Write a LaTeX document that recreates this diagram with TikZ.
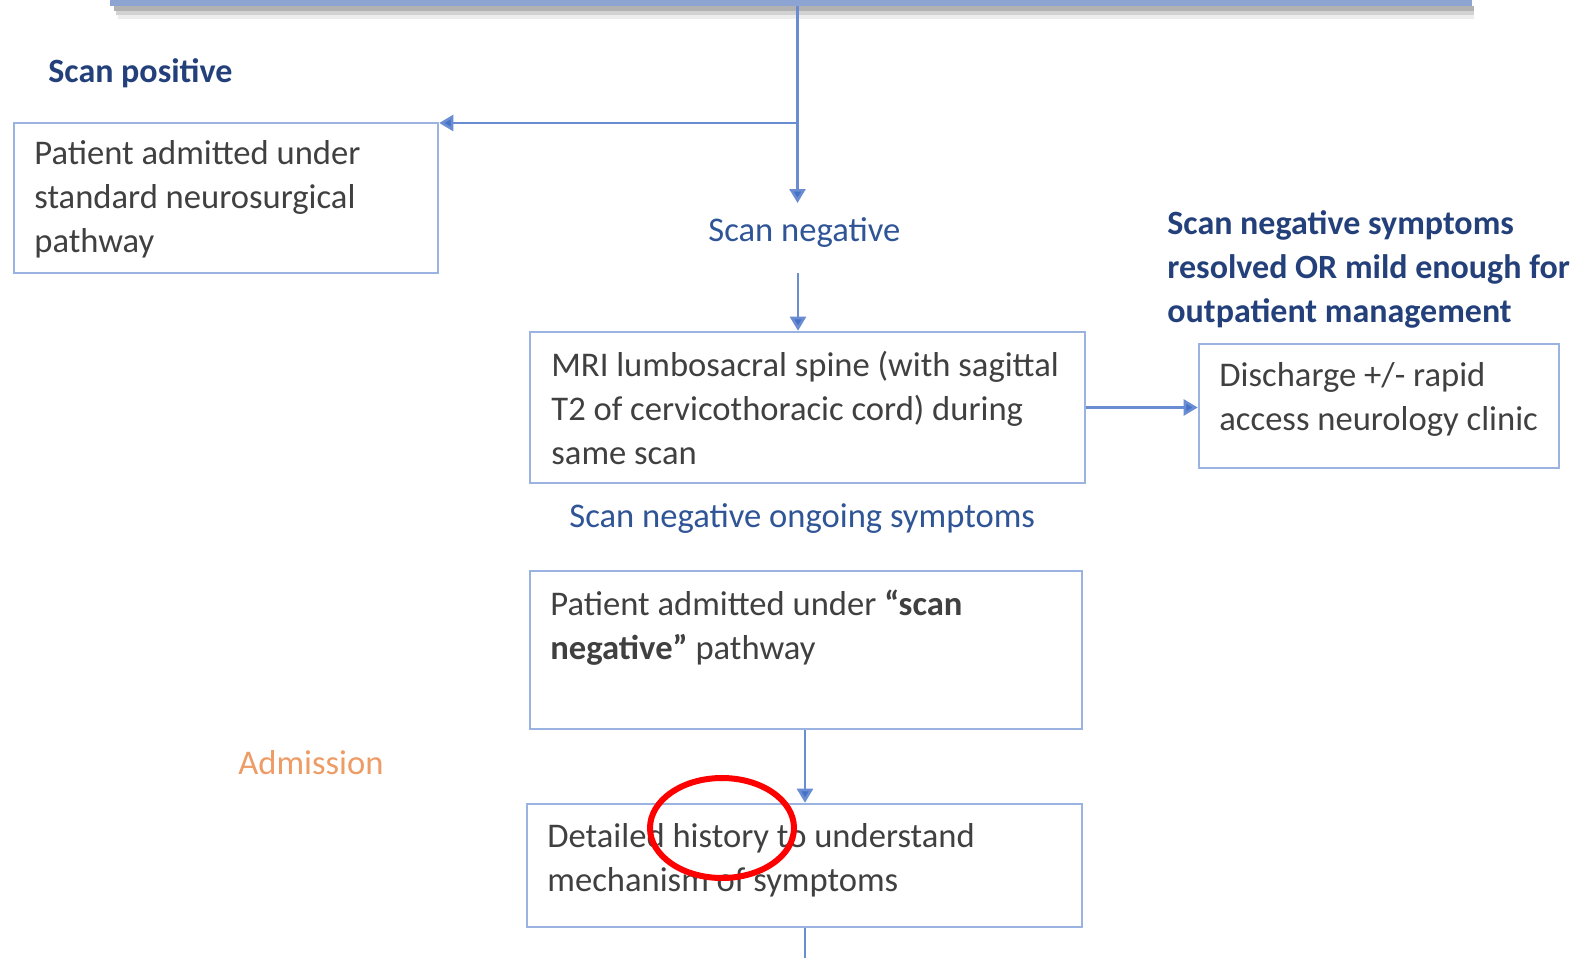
\documentclass[tikz,border=0pt]{standalone}
\usepackage{fontspec}
\setmainfont{Carlito}
\usetikzlibrary{arrows.meta,shapes.geometric}
\definecolor{boxline}{HTML}{9BB3E0}
\definecolor{arrline}{HTML}{6A8CD2}
\definecolor{arrhead}{HTML}{4472C4}
\definecolor{bartop}{HTML}{8DA3D2}
\definecolor{txtgray}{HTML}{404040}
\definecolor{lblblue}{HTML}{2F5597}
\definecolor{darkblue}{HTML}{23407A}
\definecolor{orng}{HTML}{EE9C66}
\tikzset{
  boxnode/.style={draw=boxline, line width=1.3pt, rectangle, inner sep=0pt},
  boxtext/.style={anchor=west, align=left, inner sep=0pt, text=txtgray, font=\fontsize{17.3}{22}\selectfont},
  bluelbl/.style={anchor=west, align=left, inner sep=0pt, text=lblblue, font=\fontsize{17.3}{22}\selectfont},
  boldlbl/.style={anchor=west, align=left, inner sep=0pt, text=darkblue, font=\fontsize{17}{22}\selectfont\bfseries},
  arr/.style={draw=arrline, line width=1.3pt, -{Triangle[length=7pt,width=8pt,fill=arrhead]}},
  plain/.style={draw=arrline, line width=1.3pt}
}
\begin{document}
\begin{tikzpicture}[x=0.5pt,y=-0.5pt]
\useasboundingbox (0,0) rectangle (1575,958);
% top bar with shadow
\fill[gray!60] (114,6) rectangle (1474,11);
\fill[gray!35] (116,11) rectangle (1474,15);
\fill[gray!14] (118,15) rectangle (1474,19);
\node[fill=bartop, inner sep=0pt, minimum width=681pt, minimum height=18pt] (top) at (791,-12) {};
% boxes
\node[boxnode, minimum width=212pt, minimum height=75pt] (b1) at (226,198) {};
\node[boxnode, minimum width=277.5pt, minimum height=75.5pt] (mri) at (807.5,407.5) {};
\node[boxnode, minimum width=180pt, minimum height=62pt] (dis) at (1379,406) {};
\node[boxnode, minimum width=276pt, minimum height=79pt] (b3) at (806,650) {};
\node[boxnode, minimum width=277.5pt, minimum height=61.5pt] (b4) at (804.5,865.5) {};
% texts
\node[boldlbl] (sp) at (48,73) {Scan positive};
\node[boxtext] (t1) at (34,199) {Patient admitted under\\standard neurosurgical\\pathway};
\node[bluelbl] (sn) at (708,233) {Scan negative};
\node[boldlbl] (sr) at (1167,269) {Scan negative symptoms\\resolved OR mild enough for\\outpatient management};
\node[boxtext] (t2) at (551,407.5) {MRI lumbosacral spine (with sagittal\\T2 of cervicothoracic cord) during\\same scan};
\node[boxtext] (t3) at (1219,399.5) {Discharge +/- rapid\\access neurology clinic};
\node[bluelbl] (so) at (569,519) {Scan negative ongoing symptoms};
\node[boxtext] (t4) at (550,628) {Patient admitted under \textbf{“scan}\\\textbf{negative”} pathway};
\node[anchor=west, inner sep=0pt, text=orng, font=\fontsize{17.3}{22}\selectfont] (adm) at (238,763) {Admission};
\node[boxtext] (t5) at (547,860) {Detailed history to understand\\mechanism of symptoms};
% connectors
\coordinate (tp) at (797.5,6);
\coordinate (j1) at (797.5,123);
\coordinate (a1) at (797.5,203);
\coordinate (a2s) at (798,273);
\coordinate (endb) at (805,958);
\draw[plain] (tp) -- (j1);
\draw[arr] (j1) -- (a1);
\draw[arr] (j1) -- (j1 -| b1.east);
\draw[arr] (a2s) -- (a2s |- mri.north);
\draw[arr] (mri.east) -- (mri.east -| dis.west);
\draw[arr] (b3.south -| endb) -- (b4.north -| endb);
\draw[plain] (b4.south -| endb) -- (endb);
% red annotation ellipse
\node[draw=red, line width=3pt, ellipse, minimum width=72pt, minimum height=50pt, inner sep=0pt] (mark) at (722,828) {};
\end{tikzpicture}
\end{document}
